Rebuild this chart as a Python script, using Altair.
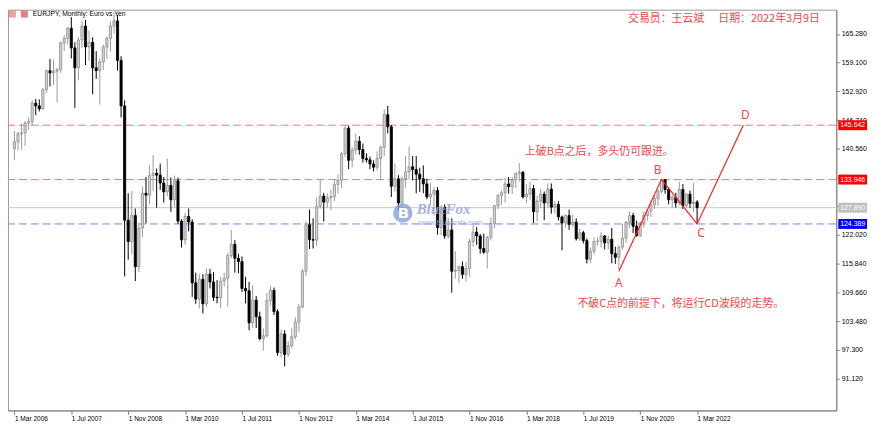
import altair as alt
import pandas as pd

# ---------------- data (EURJPY monthly, Mar 2006 .. Mar 2022) ----------------
opens = [
    140.6, 142.1, 143.8, 144.0, 146.1, 146.4, 150.4, 149.8, 149.2, 153.3,
    157.4, 156.9, 157.3, 157.6, 163.4, 164.3, 166.5, 162.3, 158.0, 164.0, 167.0, 162.5,
    163.5, 158.0, 157.4, 159.3, 162.5, 164.3, 167.0, 168.1, 159.6, 149.8, 125.2, 120.6,
    126.2, 115.2, 123.5, 131.0, 130.6, 134.8, 135.3, 134.9, 133.2, 131.3, 132.7, 129.6,
    133.7, 125.0, 121.0, 126.0, 124.8, 111.7, 108.2, 112.5, 107.2, 113.6, 111.9, 108.6,
    108.5, 112.1, 112.7, 117.6, 120.0, 117.0, 116.3, 110.5, 110.0, 103.1, 108.0, 104.4,
    99.7, 100.3, 107.9, 110.1, 105.5, 96.7, 100.7, 96.3, 98.2, 100.1, 103.3, 106.5,
    114.2, 124.2, 121.0, 120.9, 128.2, 130.4, 129.1, 130.0, 130.3, 132.9, 133.8, 139.5,
    145.0, 138.1, 140.3, 142.2, 140.4, 138.5, 138.2, 137.3, 136.6, 138.5, 140.9, 147.9,
    145.3, 132.5, 134.1, 128.9, 134.1, 135.6, 136.7, 136.1, 135.1, 134.1, 133.0, 130.2,
    130.8, 131.6, 123.6, 128.0, 121.8, 123.1, 114.2, 114.4, 115.2, 113.5, 114.8, 120.6,
    122.6, 121.8, 119.1, 118.3, 121.5, 124.5, 128.3, 130.5, 131.1, 133.0, 132.4, 133.9,
    135.3, 135.5, 130.2, 130.8, 132.0, 127.0, 129.3, 130.8, 128.9, 131.9, 128.0, 128.6,
    125.9, 124.6, 126.2, 124.3, 124.8, 121.2, 122.5, 120.8, 116.8, 118.5, 120.6, 120.7,
    121.8, 120.3, 121.1, 118.0, 117.2, 119.4, 121.3, 124.7, 126.2, 123.9, 121.9, 124.6,
    126.2, 127.2, 128.5, 129.9, 131.4, 133.9, 131.8, 129.6, 130.1, 128.9, 131.8, 128.3,
    130.8, 128.8, 129.1,
]
highs = [
    144.4, 144.3, 146.0, 146.6, 147.3, 151.0, 151.3, 151.2, 153.6, 157.6,
    159.9, 159.8, 158.0, 163.6, 165.0, 166.8, 168.9, 163.5, 164.6, 168.0, 168.3, 166.0,
    164.6, 161.6, 160.0, 163.0, 164.8, 168.0, 169.9, 169.4, 160.5, 151.0, 131.0, 131.5,
    127.7, 124.6, 132.5, 134.5, 137.0, 139.2, 136.3, 137.4, 134.5, 138.5, 134.4, 134.8,
    134.4, 125.4, 126.8, 127.7, 125.4, 113.9, 113.6, 113.6, 114.8, 114.7, 114.0, 112.3,
    113.0, 113.9, 118.2, 123.1, 120.9, 118.0, 117.4, 113.0, 111.9, 111.2, 108.9, 105.5,
    101.9, 109.6, 111.0, 110.7, 106.0, 101.6, 101.5, 99.2, 101.9, 104.3, 107.2, 114.7,
    124.9, 127.5, 125.6, 130.1, 133.9, 131.1, 131.0, 131.8, 134.0, 135.0, 139.9, 145.7,
    145.6, 140.9, 143.8, 143.3, 141.7, 139.6, 138.9, 138.1, 140.0, 141.2, 149.1, 149.8,
    145.7, 137.4, 134.9, 134.6, 139.0, 141.1, 139.0, 139.0, 136.5, 137.0, 134.1, 133.2,
    132.3, 132.3, 128.4, 128.6, 125.8, 125.6, 118.5, 115.3, 116.3, 116.2, 121.2, 124.1,
    123.7, 122.2, 122.3, 121.8, 125.8, 128.5, 130.9, 131.6, 134.4, 134.5, 134.5, 135.4,
    137.5, 135.8, 132.9, 133.5, 132.8, 130.4, 131.9, 131.4, 133.1, 133.1, 129.3, 129.3,
    126.2, 126.5, 127.5, 126.4, 125.6, 123.4, 122.9, 121.3, 119.3, 121.5, 121.5, 122.6,
    122.0, 121.9, 123.5, 119.5, 119.7, 124.4, 125.1, 127.1, 126.8, 125.1, 124.9, 127.1,
    127.5, 129.2, 130.7, 131.9, 134.1, 134.0, 132.2, 130.6, 131.1, 133.5, 133.0, 131.0,
    131.6, 133.2, 129.5,
]
lows = [
    138.1, 140.2, 140.4, 141.2, 144.6, 145.6, 147.8, 148.6, 148.9, 152.6,
    154.0, 154.3, 150.6, 156.9, 161.6, 163.0, 160.0, 149.4, 155.3, 162.3, 158.6, 159.5,
    152.3, 155.6, 150.1, 157.5, 159.9, 161.5, 165.5, 157.4, 147.3, 113.1, 116.7, 117.9,
    112.1, 114.0, 121.6, 124.5, 128.6, 131.5, 127.9, 131.7, 129.0, 130.4, 127.0, 128.0,
    124.4, 119.3, 119.9, 122.8, 108.7, 107.2, 106.2, 105.1, 106.5, 110.5, 107.8, 107.3,
    106.2, 110.9, 106.6, 117.0, 113.9, 113.8, 109.7, 107.3, 101.5, 102.0, 102.0, 99.3,
    97.1, 100.0, 106.8, 104.8, 96.0, 95.6, 93.7, 95.8, 97.7, 99.6, 101.0, 106.2,
    113.2, 119.0, 119.1, 119.6, 127.7, 124.9, 127.9, 127.4, 129.3, 130.9, 132.1, 138.8,
    136.2, 136.6, 139.3, 139.3, 137.6, 137.6, 136.2, 135.7, 135.9, 134.1, 139.0, 143.9,
    130.2, 131.4, 127.2, 126.1, 132.2, 134.0, 133.8, 131.0, 131.3, 131.0, 129.7, 128.5,
    126.2, 122.1, 122.0, 121.2, 121.3, 109.6, 112.6, 111.6, 112.6, 112.0, 113.0, 119.5,
    119.9, 118.0, 118.0, 114.8, 120.8, 123.5, 127.6, 128.4, 129.0, 130.9, 130.8, 132.1,
    133.5, 129.9, 128.9, 129.6, 124.6, 124.9, 127.8, 125.2, 127.9, 126.6, 126.6, 125.1,
    118.7, 123.6, 123.1, 123.7, 120.8, 120.8, 120.2, 115.9, 116.0, 117.8, 119.7, 119.3,
    118.9, 118.9, 115.9, 115.8, 114.6, 118.9, 120.3, 123.5, 122.4, 121.6, 121.5, 123.6,
    125.1, 125.9, 127.6, 128.3, 131.0, 130.9, 128.6, 127.9, 127.9, 128.4, 127.6, 127.9,
    127.8, 127.0, 124.4,
]
closes = [
    142.1, 143.8, 144.0, 146.1, 146.4, 150.4, 149.8, 149.2, 153.3, 157.4,
    156.9, 157.3, 157.6, 163.4, 164.3, 166.5, 162.3, 158.0, 164.0, 167.0, 162.5, 163.5,
    158.0, 157.4, 159.3, 162.5, 164.3, 167.0, 168.1, 159.6, 149.8, 125.2, 120.6, 126.2,
    115.2, 123.5, 131.0, 130.6, 134.8, 135.3, 134.9, 133.2, 131.3, 132.7, 129.6, 133.7,
    125.0, 121.0, 126.0, 124.8, 111.7, 108.2, 112.5, 107.2, 113.6, 111.9, 108.6, 108.5,
    112.1, 112.7, 117.6, 120.0, 117.0, 116.3, 110.5, 110.0, 103.1, 108.0, 104.4, 99.7,
    100.3, 107.9, 110.1, 105.5, 96.7, 100.7, 96.3, 98.2, 100.1, 103.3, 106.5, 114.2,
    124.2, 121.0, 120.9, 128.2, 130.4, 129.1, 130.0, 130.3, 132.9, 133.8, 139.5, 145.0,
    138.1, 140.3, 142.2, 140.4, 138.5, 138.2, 137.3, 136.6, 138.5, 140.9, 147.9, 145.3,
    132.5, 134.1, 128.9, 134.1, 135.6, 136.7, 136.1, 135.1, 134.1, 133.0, 130.2, 130.8,
    131.6, 123.6, 128.0, 121.8, 123.1, 114.2, 114.4, 115.2, 113.5, 114.8, 120.6, 122.6,
    121.8, 119.1, 118.3, 121.5, 124.5, 128.3, 130.5, 131.1, 133.0, 132.4, 133.9, 135.3,
    135.5, 130.2, 130.8, 132.0, 127.0, 129.3, 130.8, 128.9, 131.9, 128.0, 128.6, 125.9,
    124.6, 126.2, 124.3, 124.8, 121.2, 122.5, 120.8, 116.8, 118.5, 120.6, 120.7, 121.8,
    120.3, 121.1, 118.0, 117.2, 119.4, 121.3, 124.7, 126.2, 123.9, 121.9, 124.6, 126.2,
    127.2, 128.5, 129.9, 131.4, 133.9, 131.8, 129.6, 130.1, 128.9, 131.8, 128.3, 130.8,
    128.8, 129.1, 127.9,
]

tick_idx = [0, 16, 32, 48, 64, 80, 96, 112, 128, 144, 160, 176, 192]
tick_labels = ["1 Mar 2006", "1 Jul 2007", "1 Nov 2008", "1 Mar 2010", "1 Jul 2011",
               "1 Nov 2012", "1 Mar 2014", "1 Jul 2015", "1 Nov 2016", "1 Mar 2018",
               "1 Jul 2019", "1 Nov 2020", "1 Mar 2022"]
y_ticks = [91.12, 97.30, 103.48, 109.66, 115.84, 122.02, 128.20, 134.38,
           140.56, 146.74, 152.92, 159.10, 165.28]

level_prices = [145.642, 133.946, 124.389]
level_colors = ["#ff7373", "#ff7373", "#7d7dff"]
box_prices = [145.642, 133.946, 127.890, 124.389]
box_colors = ["#ff0000", "#ff0000", "#c0c0c0", "#0000ff"]
current_price = 127.890

wave_idx = [170, 182, 192, 205]
wave_price = [114.2, 134.0, 124.389, 145.642]
wave_names = ["A", "B", "C", "D"]

assert len(opens) == len(highs) == len(lows) == len(closes) == 193

df = pd.DataFrame({"idx": list(range(len(opens))), "open": opens, "high": highs,
                   "low": lows, "close": closes})
df["dir"] = ["up" if c >= o else "down" for o, c in zip(opens, closes)]

W, H = 835, 404
xs = alt.Scale(domain=[-0.41, 229.75], nice=False, zero=False)
ys = alt.Scale(domain=[84.24, 170.52], nice=False, zero=False)
FONT = "Liberation Sans"
RED_TXT = "#f04848"

label_expr = "[" + ",".join("'%s'" % s for s in tick_labels) + "][round(datum.value/16)]"

x_axis = alt.Axis(values=tick_idx, labelExpr=label_expr, title=None, grid=False,
                  labelAlign="left", labelBaseline="top", labelPadding=1,
                  tickSize=4, tickColor="#808080", domainColor="#808080",
                  labelFont=FONT, labelFontSize=6.6, labelColor="#000000",
                  labelOverlap=False, labelFlush=False)
y_axis = alt.Axis(orient="right", values=y_ticks, format=".3f", title=None, grid=False,
                  tickSize=3, labelPadding=2, tickColor="#808080", domainColor="#808080",
                  labelFont=FONT, labelFontSize=7, labelColor="#000000",
                  labelOverlap=False, labelFlush=False, labelBound=False)


def X(f):
    return alt.X(f, scale=xs, axis=x_axis)


def Y(f):
    return alt.Y(f, scale=ys, axis=y_axis)


base = alt.Chart(df)
wicks = base.mark_rule(strokeWidth=1).encode(
    x=X("idx:Q"),
    y=Y("low:Q"),
    y2="high:Q",
    color=alt.Color("dir:N", scale=alt.Scale(domain=["up", "down"],
                                             range=["#9a9a9a", "#000000"]), legend=None),
)
bodies = base.mark_bar(size=2.2, strokeWidth=0.8).encode(
    x=X("idx:Q"),
    y=Y("open:Q"),
    y2="close:Q",
    fill=alt.Fill("dir:N", scale=alt.Scale(domain=["up", "down"],
                                           range=["#d6d6d6", "#000000"]), legend=None),
    stroke=alt.Stroke("dir:N", scale=alt.Scale(domain=["up", "down"],
                                               range=["#8c8c8c", "#000000"]), legend=None),
)

lv = pd.DataFrame({"price": level_prices, "col": level_colors})
levels = alt.Chart(lv).mark_rule(strokeDash=[8, 4], strokeWidth=1).encode(
    y=Y("price:Q"), color=alt.Color("col:N", scale=None))
cur = alt.Chart(pd.DataFrame({"price": [current_price]})).mark_rule(
    color="#c8c8c8", strokeWidth=1).encode(y=Y("price:Q"))

bx = pd.DataFrame({"price": box_prices, "col": box_colors,
                   "label": ["%.3f" % p for p in box_prices]})
boxes = alt.Chart(bx).mark_rule(strokeWidth=10, strokeCap="butt").encode(
    x=alt.value(837), x2=alt.value(866), y=Y("price:Q"),
    color=alt.Color("col:N", scale=None))
box_txt = alt.Chart(bx).mark_text(color="#ffffff", font=FONT, fontSize=7,
                                  align="center", baseline="middle").encode(
    x=alt.value(851.5), y=Y("price:Q"), text="label:N")

wv = pd.DataFrame({"idx": wave_idx, "price": wave_price, "name": wave_names,
                   "k": list(range(len(wave_idx)))})
wave = alt.Chart(wv).mark_line(color="#ff2020", strokeWidth=1.2).encode(
    x=X("idx:Q"), y=Y("price:Q"), order="k:Q")

letter_offsets = {"A": (0, 12), "B": (-4, -9), "C": (4, 9), "D": (2, -10)}
letters = []
for nm in wave_names:
    dx, dy = letter_offsets[nm]
    letters.append(
        alt.Chart(wv[wv["name"] == nm]).mark_text(
            color=RED_TXT, font="Noto Sans", fontSize=12, dx=dx, dy=dy,
            align="center", baseline="middle").encode(
            x=X("idx:Q"), y=Y("price:Q"), text="name:N"))


def txt(s, x, y, size=11, color=RED_TXT, font="Noto Sans CJK SC", **kw):
    return alt.Chart(pd.DataFrame({"t": [s]})).mark_text(
        color=color, font=font, fontSize=size, align="left", baseline="middle", **kw
    ).encode(x=alt.value(x), y=alt.value(y), text="t:N")


notes = [
    txt("交易员：王云斌", 625, 9),
    txt("日期：2022年3月9日", 716, 9),
    txt("上破B点之后，多头仍可跟进。", 521, 144),
    txt("不破C点的前提下，将运行CD波段的走势。", 574, 297),
    txt("EURJPY, Monthly:  Euro vs Yen", 25, 4, size=6.8, color="#000000", font=FONT),
]

# small title icons
icons = alt.Chart(pd.DataFrame({"a": [0, 1], "c": ["#e98a8a", "#e06060"]})).mark_rect(
    opacity=0.8, width=7, height=7).encode(
    x=alt.value(1), y=alt.value(1), color=alt.Color("c:N", scale=None))
icon2 = alt.Chart(pd.DataFrame({"a": [0]})).mark_rect(
    opacity=0.8, color="#e06060").encode(
    x=alt.value(13), x2=alt.value(20), y=alt.value(1), y2=alt.value(8))
icon1 = alt.Chart(pd.DataFrame({"a": [0]})).mark_rect(
    opacity=0.8, color="#e98a8a").encode(
    x=alt.value(1), x2=alt.value(8), y=alt.value(1), y2=alt.value(8))

# watermark
wm = [
    alt.Chart(pd.DataFrame({"a": [0]})).mark_circle(size=380, color="#7f98d8", opacity=0.75).encode(
        x=alt.value(398), y=alt.value(205)),
    txt("B", 393, 205, size=15, color="#ffffff", font="DejaVu Sans", fontWeight="bold"),
    txt("BlueFox", 412, 201, size=15, color="#93a8de", font="Liberation Serif",
        fontWeight="bold", fontStyle="italic", opacity=0.85),
    txt("www.bluefoxfx.com", 414, 215, size=7.5, color="#93a8de", font=FONT, opacity=0.9),
]

chart = alt.layer(cur, levels, wicks, bodies, *wm, wave, *letters, boxes, box_txt,
                  *notes, icon1, icon2).properties(
    width=W, height=H,
    padding={"left": 0, "top": 0, "right": 36, "bottom": 14},
    autosize=alt.AutoSizeParams(type="none"),
).configure_view(stroke="#9a9a9a", strokeWidth=1).configure_axis(labelOverlap=False)

chart.save("out.html", embed_options={"renderer": "svg", "actions": False})
